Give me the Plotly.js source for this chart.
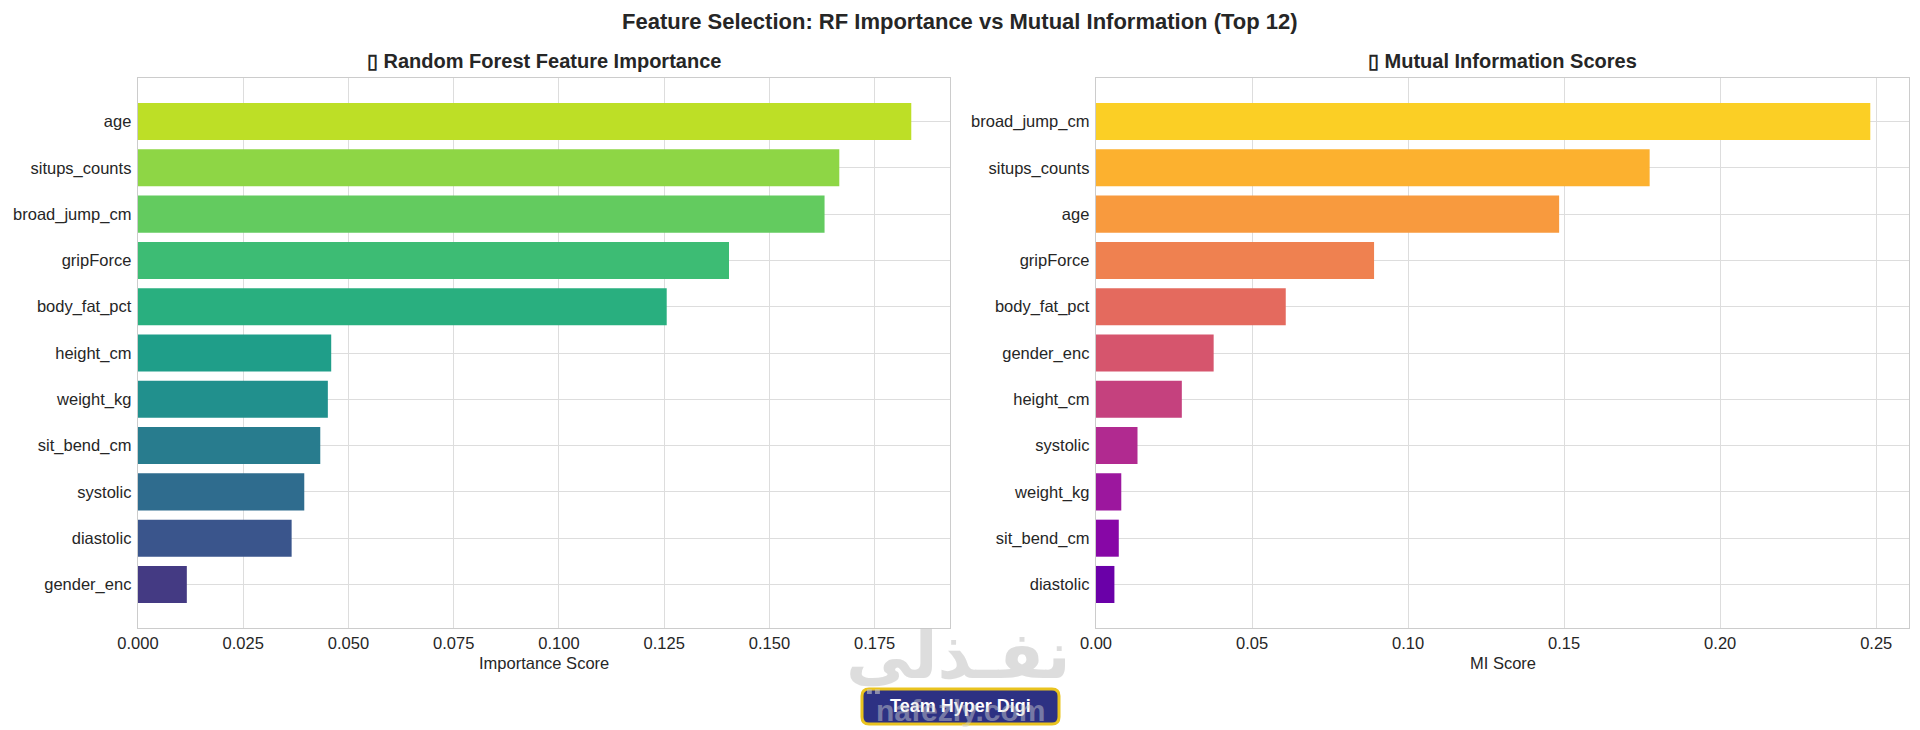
<!DOCTYPE html>
<html><head><meta charset="utf-8">
<script src="https://cdn.plot.ly/plotly-3.0.1.min.js"></script>
<style>html,body{margin:0;padding:0;background:#fff}#chart{width:1920px;height:730px}</style>
</head><body><div id="chart"></div>
<script>
// Random Forest feature importance (top to bottom)
const rfFeatures = ['age','situps_counts','broad_jump_cm','gripForce','body_fat_pct','height_cm','weight_kg','sit_bend_cm','systolic','diastolic','gender_enc'];
const rfScores   = [0.1837, 0.1666, 0.1631, 0.1404, 0.1256, 0.0459, 0.0451, 0.0433, 0.0395, 0.0365, 0.0116];
const rfColors   = ['#bddf26','#8ed645','#63cb5f','#3dbc74','#29af7f','#1f9e89','#21908d','#287c8e','#2f6c8e','#3a558c','#443a83'];

// Mutual information scores (top to bottom)
const miFeatures = ['broad_jump_cm','situps_counts','age','gripForce','body_fat_pct','gender_enc','height_cm','systolic','weight_kg','sit_bend_cm','diastolic'];
const miScores   = [0.2481, 0.1774, 0.1484, 0.0891, 0.0608, 0.0377, 0.0275, 0.0133, 0.0081, 0.0073, 0.0059];
const miColors   = ['#fbcf25','#fcb12f','#f89a3e','#ef8150','#e46a5e','#d6556d','#c5417e','#b12a90','#9c179e','#8707a6','#6a00a8'];

const rfTicks = [0, 0.025, 0.05, 0.075, 0.1, 0.125, 0.15, 0.175];
const rfTickLabels = ['0.000','0.025','0.050','0.075','0.100','0.125','0.150','0.175'];
const miTicks = [0, 0.05, 0.1, 0.15, 0.2, 0.25];
const miTickLabels = ['0.00','0.05','0.10','0.15','0.20','0.25'];

const suptitle = 'Feature Selection: RF Importance vs Mutual Information (Top 12)';
const rfTitle = '▯ Random Forest Feature Importance';
const miTitle = '▯ Mutual Information Scores';
const rfXTitle = 'Importance Score';
const miXTitle = 'MI Score';

const W = 1920, H = 730;
const px = v => v / W;
const py = v => 1 - v / H;
const FONT = 'Liberation Sans, Arial, sans-serif';
const TXT = '#262626';

const traces = [
  {type:'bar', orientation:'h', x: rfScores, y: rfFeatures, width: 0.8,
   marker:{color: rfColors, line:{width:0}}, xaxis:'x', yaxis:'y', hoverinfo:'x+y'},
  {type:'bar', orientation:'h', x: miScores, y: miFeatures, width: 0.8,
   marker:{color: miColors, line:{width:0}}, xaxis:'x2', yaxis:'y2', hoverinfo:'x+y'}
];

const axBase = {
  showgrid:true, gridcolor:'#dddddd', gridwidth:1,
  showline:true, linecolor:'#cccccc', linewidth:1.3, mirror:true,
  zeroline:false, ticks:'', fixedrange:true,
  tickfont:{family:FONT, size:16.5, color:TXT}
};
const n = rfFeatures.length;
const yDom = [py(628), py(78)];

const layout = {
  width: W, height: H,
  margin:{l:0, r:0, t:0, b:0},
  paper_bgcolor:'#ffffff', plot_bgcolor:'#ffffff',
  showlegend:false,
  bargap:0.2,
  xaxis: Object.assign({}, axBase, {domain:[px(138), px(950)], range:[0, 0.1929],
    tickvals: rfTicks, ticktext: rfTickLabels, anchor:'y', ticklabelstandoff:0}),
  yaxis: Object.assign({}, axBase, {domain:yDom, type:'category', categoryarray: rfFeatures,
    range:[n - 1 + 0.94, -0.94], anchor:'x', ticklabelstandoff:2}),
  xaxis2: Object.assign({}, axBase, {domain:[px(1096), px(1909)], range:[0, 0.2605],
    tickvals: miTicks, ticktext: miTickLabels, anchor:'y2', ticklabelstandoff:0}),
  yaxis2: Object.assign({}, axBase, {domain:yDom, type:'category', categoryarray: miFeatures,
    range:[miFeatures.length - 1 + 0.94, -0.94], anchor:'x2', ticklabelstandoff:2}),
  shapes: [
    {type:'path', xref:'paper', yref:'paper', layer:'above',
     path: (function(){
       const x0=862,x1=1059,y0=689,y1=724,r=7;
       const X=v=>px(v), Y=v=>py(v);
       return `M ${X(x0+r)} ${Y(y0)} L ${X(x1-r)} ${Y(y0)} Q ${X(x1)} ${Y(y0)} ${X(x1)} ${Y(y0+r)} L ${X(x1)} ${Y(y1-r)} Q ${X(x1)} ${Y(y1)} ${X(x1-r)} ${Y(y1)} L ${X(x0+r)} ${Y(y1)} Q ${X(x0)} ${Y(y1)} ${X(x0)} ${Y(y1-r)} L ${X(x0)} ${Y(y0+r)} Q ${X(x0)} ${Y(y0)} ${X(x0+r)} ${Y(y0)} Z`;
     })(),
     fillcolor:'#2d3183', line:{color:'#e9c31f', width:3}}
  ],
  annotations: [
    {text:'<b>'+suptitle+'</b>', xref:'paper', yref:'paper', x:0.5, y:py(21), xanchor:'center', yanchor:'middle',
     showarrow:false, font:{family:FONT, size:22, color:TXT}},
    {text:'<b>'+rfTitle+'</b>', xref:'paper', yref:'paper', x:px(544), y:py(61), xanchor:'center', yanchor:'middle',
     showarrow:false, font:{family:FONT, size:20, color:TXT}},
    {text:'<b>'+miTitle+'</b>', xref:'paper', yref:'paper', x:px(1502.5), y:py(61), xanchor:'center', yanchor:'middle',
     showarrow:false, font:{family:FONT, size:20, color:TXT}},
    {text:rfXTitle, xref:'paper', yref:'paper', x:px(544), y:py(663), xanchor:'center', yanchor:'middle',
     showarrow:false, font:{family:FONT, size:16.5, color:TXT}},
    {text:miXTitle, xref:'paper', yref:'paper', x:px(1502.5), y:py(663), xanchor:'center', yanchor:'middle',
     showarrow:false, font:{family:FONT, size:16.5, color:TXT}},
    // watermark
    {text:'<b>نفـذلي</b>', xref:'paper', yref:'paper', x:px(958), y:py(655), xanchor:'center', yanchor:'middle',
     showarrow:false, opacity:0.6, font:{family:'DejaVu Sans, sans-serif', size:66, color:'#c8c8c8'}},
    {text:'<b>Team Hyper Digi</b>', xref:'paper', yref:'paper', x:px(960), y:py(706), xanchor:'center', yanchor:'middle',
     showarrow:false, font:{family:FONT, size:18, color:'#ffffff'}},
    {text:'<b>nafezly.com</b>', xref:'paper', yref:'paper', x:px(961), y:py(710), xanchor:'center', yanchor:'middle',
     showarrow:false, opacity:0.45, font:{family:FONT, size:30, color:'#d0d0d0'}}
  ]
};

Plotly.newPlot('chart', traces, layout, {displayModeBar:false, staticPlot:true});
</script>
</body></html>
